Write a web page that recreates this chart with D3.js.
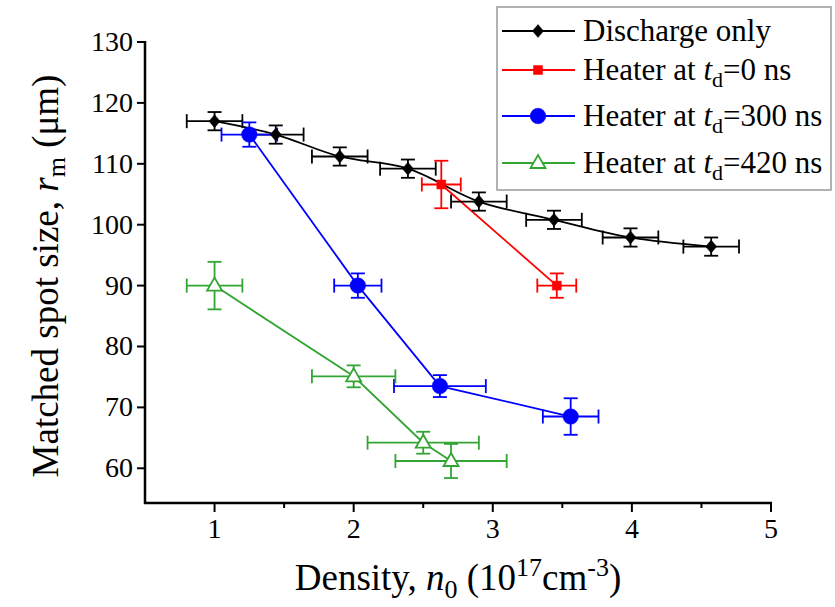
<!DOCTYPE html>
<html>
<head>
<meta charset="utf-8">
<script src="https://cdn.jsdelivr.net/npm/d3@7"></script>
<style>
	body { margin: 0; background: #fff; }
	svg text { font-family: 'Liberation Serif', 'Times New Roman', serif; fill: #000; }
</style>
</head>
<body>
<svg id="chart" width="835" height="607"></svg>
<script>
// values
const dischargeX = [1.0, 1.44, 1.90, 2.39, 2.90, 3.44, 3.99, 4.57];
const dischargeY = [117.0, 114.8, 111.2, 109.2, 103.8, 100.8, 97.9, 96.4];
const dischargeXErr = [0.2, 0.2, 0.2, 0.2, 0.2, 0.2, 0.2, 0.2];
const dischargeYErr = [1.5, 1.5, 1.5, 1.5, 1.5, 1.5, 1.5, 1.5];

const heater0X = [2.63, 3.46];
const heater0Y = [106.6, 90.0];
const heater0XErr = [0.14, 0.14];
const heater0YErr = [3.9, 2.0];

const heater300X = [1.25, 2.03, 2.62, 3.56];
const heater300Y = [114.8, 90.0, 73.5, 68.5];
const heater300XErr = [0.2, 0.17, 0.33, 0.2];
const heater300YErr = [2.0, 2.0, 1.8, 3.0];

const heater420X = [1.0, 2.0, 2.5, 2.7];
const heater420Y = [90.0, 75.1, 64.2, 61.2];
const heater420XErr = [0.2, 0.3, 0.4, 0.4];
const heater420YErr = [3.9, 1.8, 1.8, 2.8];

const xTicks = [1, 2, 3, 4, 5];
const xMinorTicks = [1.5, 2.5, 3.5, 4.5];
const yTicks = [60, 70, 80, 90, 100, 110, 120, 130];

const svg = d3.select('#chart');

const x = d3.scaleLinear().domain([0.5, 5]).range([145, 771]);
const y = d3.scaleLinear().domain([54.3, 130]).range([503, 42]);

const shapes = {
	diamond: 'M0,-6.5L5.5,0L0,6.5L-5.5,0Z',
	square: 'M-4.5,-4.5H4.5V4.5H-4.5Z',
	circle: d3.symbol(d3.symbolCircle, 190)(),
	triangle: 'M0,-8L7.5,5L-7.5,5Z',
};

function zip(xs, ys, xe, ye) {
	return xs.map((v, i) => ({ x: v, y: ys[i], xe: xe[i], ye: ye[i] }));
}

const series = [
	{ name: 'discharge', pts: zip(dischargeX, dischargeY, dischargeXErr, dischargeYErr),
		color: '#000', shape: 'diamond', fill: '#000', curve: d3.curveCatmullRom },
	{ name: 'h0', pts: zip(heater0X, heater0Y, heater0XErr, heater0YErr),
		color: '#ff0000', shape: 'square', fill: '#ff0000', curve: d3.curveLinear },
	{ name: 'h300', pts: zip(heater300X, heater300Y, heater300XErr, heater300YErr),
		color: '#0000ff', shape: 'circle', fill: '#0000ff', curve: d3.curveLinear },
	{ name: 'h420', pts: zip(heater420X, heater420Y, heater420XErr, heater420YErr),
		color: '#33a533', shape: 'triangle', fill: '#fff', curve: d3.curveLinear },
];

// axes
const gx = svg.append('g').attr('transform', 'translate(0,503)');
gx.append('line').attr('x1', 144).attr('x2', x(5) + 1)
	.attr('stroke', '#000').attr('stroke-width', 2.5);
xTicks.forEach(t => {
	gx.append('line').attr('x1', x(t)).attr('x2', x(t)).attr('y1', 0).attr('y2', 9)
		.attr('stroke', '#000').attr('stroke-width', 2);
	gx.append('text').attr('x', x(t)).attr('y', 35)
		.attr('text-anchor', 'middle').attr('font-size', 28).text(t);
});
xMinorTicks.forEach(t => {
	gx.append('line').attr('x1', x(t)).attr('x2', x(t)).attr('y1', 0).attr('y2', 5)
		.attr('stroke', '#000').attr('stroke-width', 2);
});

const gy = svg.append('g').attr('transform', 'translate(145,0)');
gy.append('line').attr('y1', y(130) - 1).attr('y2', 504)
	.attr('stroke', '#000').attr('stroke-width', 2.5);
yTicks.forEach(t => {
	gy.append('line').attr('x1', 0).attr('x2', -8).attr('y1', y(t)).attr('y2', y(t))
		.attr('stroke', '#000').attr('stroke-width', 2);
	gy.append('text').attr('x', -12).attr('y', y(t) + 9)
		.attr('text-anchor', 'end').attr('font-size', 28).text(t);
});

// axis titles
const xt = svg.append('text').attr('x', 458).attr('y', 590)
	.attr('text-anchor', 'middle').attr('font-size', 37);
xt.append('tspan').text('Density, ');
xt.append('tspan').attr('font-style', 'italic').text('n');
xt.append('tspan').attr('font-size', 26).attr('dy', 8).text('0');
xt.append('tspan').attr('dy', -8).text(' (10');
xt.append('tspan').attr('font-size', 26).attr('dy', -14).text('17');
xt.append('tspan').attr('dy', 14).text('cm');
xt.append('tspan').attr('font-size', 26).attr('dy', -14).text('-3');
xt.append('tspan').attr('dy', 14).text(')');

const yt = svg.append('text').attr('transform', 'translate(58,276) rotate(-90)')
	.attr('text-anchor', 'middle').attr('font-size', 37);
yt.append('tspan').text('Matched spot size, ');
yt.append('tspan').attr('font-style', 'italic').text('r');
yt.append('tspan').attr('font-size', 26).attr('dy', 7).text('m');
yt.append('tspan').attr('dy', -7).text(' (μm)');

// series
const plot = svg.append('g');
series.forEach(s => {
	plot.append('path')
		.attr('d', d3.line().x(d => x(d.x)).y(d => y(d.y)).curve(s.curve)(s.pts))
		.attr('fill', 'none').attr('stroke', s.color).attr('stroke-width', 1.8);
});

series.forEach(s => {
	const g = plot.append('g').attr('stroke', s.color).attr('stroke-width', 1.8);
	s.pts.forEach(p => {
		const cx = x(p.x), cy = y(p.y);
		const x0 = x(p.x - p.xe), x1 = x(p.x + p.xe);
		const y0 = y(p.y - p.ye), y1 = y(p.y + p.ye);
		g.append('line').attr('x1', x0).attr('x2', x1).attr('y1', cy).attr('y2', cy);
		g.append('line').attr('x1', x0).attr('x2', x0).attr('y1', cy - 7).attr('y2', cy + 7);
		g.append('line').attr('x1', x1).attr('x2', x1).attr('y1', cy - 7).attr('y2', cy + 7);
		g.append('line').attr('x1', cx).attr('x2', cx).attr('y1', y0).attr('y2', y1);
		g.append('line').attr('x1', cx - 7).attr('x2', cx + 7).attr('y1', y0).attr('y2', y0);
		g.append('line').attr('x1', cx - 7).attr('x2', cx + 7).attr('y1', y1).attr('y2', y1);
	});
});

series.forEach(s => {
	plot.selectAll(null).data(s.pts).enter().append('path')
		.attr('d', shapes[s.shape])
		.attr('transform', d => `translate(${x(d.x)},${y(d.y)})`)
		.attr('fill', s.fill)
		.attr('stroke', s.color)
		.attr('stroke-width', s.shape == 'triangle' ? 1.8 : 0.5);
});

// legend
const legend = svg.append('g');
legend.append('rect').attr('x', 497).attr('y', 7).attr('width', 334).attr('height', 183)
	.attr('fill', '#fff').attr('stroke', '#999').attr('stroke-width', 1.5);

const legendRows = [31, 70, 116, 163];
const legendDelays = [null, '0', '300', '420'];
series.forEach((s, i) => {
	const ry = legendRows[i];
	legend.append('line').attr('x1', 502).attr('x2', 575).attr('y1', ry).attr('y2', ry)
		.attr('stroke', s.color).attr('stroke-width', 1.8);
	legend.append('path').attr('d', shapes[s.shape])
		.attr('transform', `translate(538,${ry})`)
		.attr('fill', s.fill).attr('stroke', s.color)
		.attr('stroke-width', s.shape == 'triangle' ? 1.8 : 0.5);
	const t = legend.append('text').attr('x', 583).attr('y', ry + 10).attr('font-size', 31);
	if (legendDelays[i] == null) {
		t.text('Discharge only');
	} else {
		t.append('tspan').text('Heater at ');
		t.append('tspan').attr('font-style', 'italic').text('t');
		t.append('tspan').attr('font-size', 22).attr('dy', 7).text('d');
		t.append('tspan').attr('dy', -7).text(`=${legendDelays[i]} ns`);
	}
});
</script>
</body>
</html>
